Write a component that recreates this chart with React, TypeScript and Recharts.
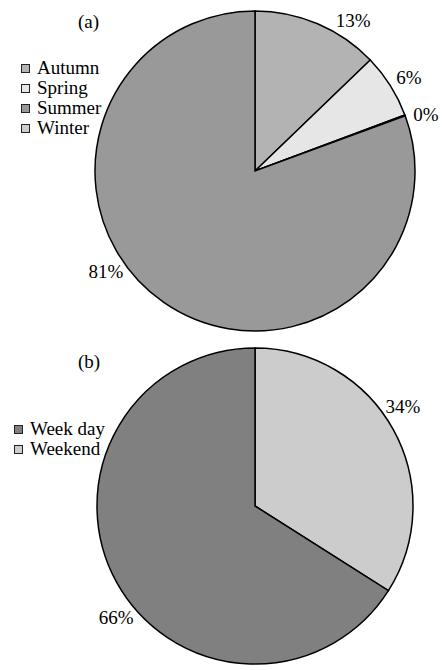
import React from 'react';
import { PieChart, Pie, Cell } from 'recharts';

// ---- Data ----
const seasonCategories = ['Autumn', 'Spring', 'Summer', 'Winter'];
const seasonValues = [12.8, 6.5, 80.6, 0.1];
const seasonLabels = ['13%', '6%', '81%', '0%'];
const seasonSliceOrder = ['Autumn', 'Spring', 'Winter', 'Summer'];

const dayCategories = ['Week day', 'Weekend'];
const dayValues = [66, 34];
const dayLabels = ['66%', '34%'];
const daySliceOrder = ['Weekend', 'Week day'];

// ---- Styles ----
const seasonColors: Record<string, string> = {
  Autumn: '#b3b3b3',
  Spring: '#e6e6e6',
  Summer: '#999999',
  Winter: '#cccccc',
};
const dayColors: Record<string, string> = {
  'Week day': '#808080',
  Weekend: '#cccccc',
};
// label angle nudges (degrees, clockwise) to mimic original placement
const labelNudge: Record<string, number> = {
  Autumn: 10,
  Spring: 1,
  Winter: 2,
  Summer: 21,
  Weekend: -5,
  'Week day': -10,
};

const FONT = '"Liberation Serif", "Times New Roman", serif';
const RAD = Math.PI / 180;

const seasonData = seasonSliceOrder.map((name) => {
  const i = seasonCategories.indexOf(name);
  return { name, value: seasonValues[i], label: seasonLabels[i] };
});
const dayData = daySliceOrder.map((name) => {
  const i = dayCategories.indexOf(name);
  return { name, value: dayValues[i], label: dayLabels[i] };
});

const renderLabel = (props: any) => {
  const { cx, cy, midAngle, outerRadius, payload } = props;
  const name = payload?.name ?? props.name;
  const ang = midAngle - (labelNudge[name] || 0);
  const r = outerRadius + 20;
  const x = cx + r * Math.cos(-ang * RAD);
  const y = cy + r * Math.sin(-ang * RAD);
  return (
    <text
      x={x}
      y={y}
      textAnchor="middle"
      dominantBaseline="central"
      fontFamily={FONT}
      fontSize={19}
      fill="#000"
    >
      {payload?.label ?? props.label}
    </text>
  );
};

const LegendBox = ({
  names,
  colors,
  x,
  y,
}: {
  names: string[];
  colors: Record<string, string>;
  x: number;
  y: number;
}) => (
  <div
    style={{
      position: 'absolute',
      left: x,
      top: y,
      fontFamily: FONT,
      fontSize: 19,
      color: '#000',
    }}
  >
    {names.map((n) => (
      <div key={n} style={{ display: 'flex', alignItems: 'center', height: 20 }}>
        <span
          style={{
            display: 'inline-block',
            width: 7,
            height: 7,
            border: '1.5px solid #222',
            background: colors[n],
            marginRight: 7,
          }}
        />
        <span>{n}</span>
      </div>
    ))}
  </div>
);

const Title = ({ x, y, text }: { x: number; y: number; text: string }) => (
  <div
    style={{
      position: 'absolute',
      left: x,
      top: y,
      fontFamily: FONT,
      fontSize: 19,
      lineHeight: '20px',
      color: '#000',
    }}
  >
    {text}
  </div>
);

export default function App() {
  return (
    <div
      style={{
        position: 'absolute',
        left: 0,
        top: 0,
        width: 442,
        height: 670,
        background: '#fff',
        overflow: 'hidden',
      }}
    >
      <div style={{ position: 'absolute', left: 0, top: 0 }}>
        <PieChart width={442} height={340} margin={{ top: 0, right: 0, bottom: 0, left: 0 }}>
          <Pie
            data={seasonData}
            dataKey="value"
            nameKey="name"
            cx={255}
            cy={171}
            outerRadius={160}
            startAngle={90}
            endAngle={-270}
            stroke="#000"
            strokeWidth={1.5}
            label={renderLabel}
            labelLine={false}
            isAnimationActive={false}
          >
            {seasonData.map((d) => (
              <Cell key={d.name} fill={seasonColors[d.name]} />
            ))}
          </Pie>
        </PieChart>
        <LegendBox names={seasonCategories} colors={seasonColors} x={21} y={58} />
        <Title x={78} y={12} text="(a)" />
      </div>
      <div style={{ position: 'absolute', left: 0, top: 335 }}>
        <PieChart width={442} height={335} margin={{ top: 0, right: 0, bottom: 0, left: 0 }}>
          <Pie
            data={dayData}
            dataKey="value"
            nameKey="name"
            cx={255}
            cy={171}
            outerRadius={158}
            startAngle={90}
            endAngle={-270}
            stroke="#000"
            strokeWidth={1.5}
            label={renderLabel}
            labelLine={false}
            isAnimationActive={false}
          >
            {dayData.map((d) => (
              <Cell key={d.name} fill={dayColors[d.name]} />
            ))}
          </Pie>
        </PieChart>
        <LegendBox names={dayCategories} colors={dayColors} x={14} y={84} />
        <Title x={78} y={17} text="(b)" />
      </div>
    </div>
  );
}
